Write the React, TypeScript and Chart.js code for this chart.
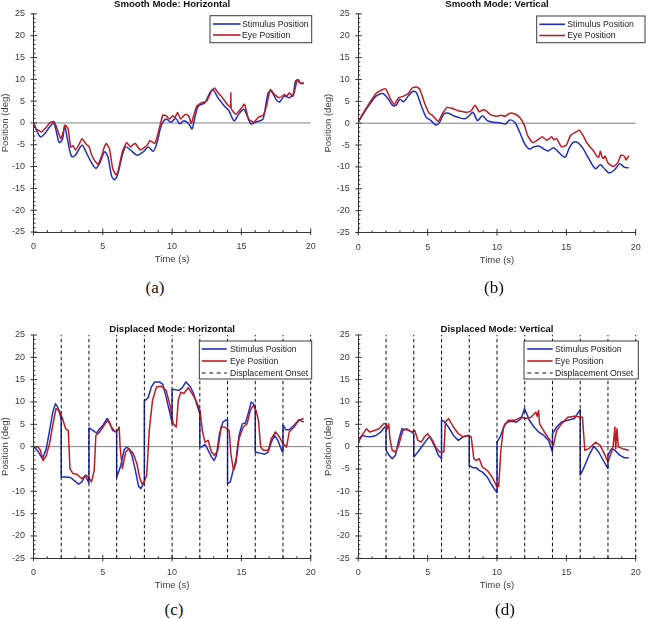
import React, { useEffect, useRef } from "react";
import { Chart, registerables } from "chart.js";
Chart.register(...registerables);

// ---------- shared axis data ----------
const X_TICKS = [0, 5, 10, 15, 20];
const Y_TICKS = [-25, -20, -15, -10, -5, 0, 5, 10, 15, 20, 25];
const ONSETS = [2, 4, 6, 8, 10, 12, 14, 16, 18, 20];
const LEGEND_LABELS = ["Stimulus Position", "Eye Position", "Displacement Onset"];
const TITLES = [
  "Smooth Mode: Horizontal",
  "Smooth Mode: Vertical",
  "Displaced Mode: Horizontal",
  "Displaced Mode: Vertical",
];
const PANEL_TAGS = ["(a)", "(b)", "(c)", "(d)"];

// ---------- panel (a) ----------
const aStimT = [0, 0.22, 0.5, 0.8, 1.15, 1.44, 1.6, 1.86, 2.1, 2.25, 2.44, 2.75, 3.03, 3.5, 3.84, 4.2, 4.5, 4.78, 5.13, 5.36, 5.64, 5.83, 6.06, 6.41, 6.65, 7.0, 7.47, 7.93, 8.28, 8.63, 8.9, 9.22, 9.57, 9.9, 10.27, 10.55, 10.85, 11.2, 11.44, 11.67, 11.9, 12.37, 12.72, 12.95, 13.3, 13.77, 14.1, 14.47, 14.8, 15.17, 15.41, 15.69, 16.0, 16.34, 16.57, 16.93, 17.16, 17.5, 17.75, 18.1, 18.45, 18.73, 18.9, 19.1, 19.26, 19.5];
const aStimY = [0, -1.7, -3.2, -2.5, -1.0, 0, -1.35, -4.5, -3.6, -0.6, -3.6, -7.7, -7.35, -5.1, -7.0, -9.2, -10.4, -9.2, -6.6, -7.7, -12.2, -13.0, -11.9, -7.4, -5.5, -6.2, -7.4, -6.6, -5.5, -6.5, -4.7, -0.6, 0.9, 0.15, 1.05, -0.2, 0.5, -0.2, -1.35, 1.65, 3.9, 4.65, 6.9, 7.65, 5.8, 3.9, 2.8, 0.5, 2.0, 3.15, 1.65, -0.2, 0.15, 0.5, 0.9, 6.9, 7.3, 5.4, 4.8, 6.15, 5.8, 6.5, 9.5, 9.9, 9.15, 9.0];
const aEyeT = [0, 0.22, 0.4, 0.57, 0.92, 1.2, 1.5, 1.74, 1.97, 2.15, 2.28, 2.5, 2.68, 2.85, 3.03, 3.3, 3.5, 3.65, 3.84, 4.0, 4.2, 4.43, 4.66, 4.94, 5.1, 5.25, 5.48, 5.71, 5.95, 6.1, 6.41, 6.72, 7.0, 7.2, 7.35, 7.7, 8.05, 8.25, 8.4, 8.75, 8.98, 9.33, 9.57, 9.8, 10.04, 10.2, 10.39, 10.62, 10.8, 10.97, 11.2, 11.39, 11.55, 11.79, 12.14, 12.49, 12.84, 13.07, 13.3, 13.54, 13.89, 14.1, 14.22, 14.24, 14.27, 14.59, 14.94, 15.22, 15.52, 15.88, 16.23, 16.58, 16.81, 17.09, 17.4, 17.75, 18.1, 18.3, 18.45, 18.73, 19.03, 19.15, 19.26, 19.5];
const aEyeY = [0, -1.5, -1.7, -2.1, -1.0, 0.15, 0.3, -1.7, -3.6, -2.0, -0.45, -1.35, -5.5, -5.2, -6.2, -4.8, -3.6, -4.2, -5.0, -5.4, -7.35, -8.7, -9.5, -7.35, -5.6, -4.7, -5.9, -10.4, -11.9, -11.1, -6.6, -4.5, -5.5, -4.9, -4.7, -6.2, -5.5, -4.9, -4.0, -4.7, -2.5, 1.8, 1.65, 0.9, 1.65, 1.2, 2.4, 0.9, 1.5, 2.0, 1.65, -0.2, 1.65, 3.9, 4.65, 5.0, 7.3, 8.0, 7.0, 6.15, 4.65, 3.9, 3.6, 6.9, 3.3, 2.0, 3.15, 4.3, 0.9, 0.15, 1.3, 1.8, 3.9, 7.65, 6.5, 5.8, 6.5, 6.2, 6.9, 6.15, 9.9, 9.4, 9.15, 9.15];

// ---------- panel (b) ----------
const bStimT = [0, 0.35, 0.82, 1.28, 1.75, 2.1, 2.5, 2.75, 3.0, 3.26, 3.6, 3.95, 4.19, 4.54, 4.9, 5.24, 5.6, 5.86, 6.17, 6.5, 6.86, 7.2, 7.68, 8.0, 8.26, 8.6, 8.95, 9.3, 9.77, 10.2, 10.6, 10.93, 11.28, 11.63, 11.98, 12.33, 12.67, 13.0, 13.37, 13.7, 14.07, 14.4, 14.9, 15.2, 15.5, 15.8, 16.2, 16.6, 17.1, 17.45, 17.8, 18.1, 18.5, 18.85, 19.2, 19.5];
const bStimY = [0.2, 2.1, 4.3, 6.2, 6.8, 5.8, 4.0, 4.2, 5.5, 4.9, 6.2, 7.3, 7.0, 4.0, 1.35, 0.6, -0.4, 0.2, 2.1, 2.3, 1.7, 1.35, 1.0, 1.7, 2.5, 0.6, 1.7, 0.6, 0.2, 0.1, -0.2, 0.75, 0.2, -2.0, -4.6, -5.9, -5.4, -5.2, -5.9, -6.35, -5.6, -6.5, -7.8, -5.75, -4.4, -4.4, -5.75, -8.0, -10.4, -9.5, -10.6, -11.4, -10.6, -9.3, -10.1, -10.2];
const bEyeT = [0, 0.35, 0.82, 1.28, 1.75, 1.98, 2.33, 2.6, 2.9, 3.26, 3.6, 3.9, 4.19, 4.42, 4.77, 5.1, 5.3, 5.47, 5.77, 6.05, 6.4, 6.75, 7.0, 7.2, 7.5, 7.8, 8.14, 8.42, 8.72, 9.0, 9.2, 9.55, 10.0, 10.3, 10.6, 10.93, 11.28, 11.63, 11.98, 12.2, 12.56, 12.9, 13.26, 13.6, 13.95, 14.1, 14.3, 14.65, 15.0, 15.3, 15.7, 15.93, 16.2, 16.5, 17.0, 17.15, 17.33, 17.45, 17.56, 17.68, 17.8, 18.0, 18.4, 18.7, 18.95, 19.2, 19.3, 19.5];
const bEyeY = [0.4, 2.3, 4.7, 6.8, 7.7, 7.85, 5.5, 4.3, 5.8, 6.2, 6.8, 8.1, 8.3, 7.85, 4.7, 2.3, 1.9, 1.35, 0.4, 2.1, 3.6, 3.4, 3.1, 2.85, 2.7, 2.5, 2.85, 4.1, 2.6, 3.1, 2.85, 1.9, 1.6, 1.8, 1.6, 2.3, 2.1, 1.35, -0.5, -2.8, -4.4, -3.9, -3.1, -3.9, -3.1, -3.8, -3.5, -5.4, -5.0, -2.8, -2.0, -1.6, -2.8, -4.6, -6.5, -7.3, -7.85, -6.4, -7.6, -8.1, -7.5, -9.1, -9.9, -9.1, -7.25, -7.6, -8.4, -7.4];

// ---------- panel (c) ----------
const cStimT = [0, 0.27, 0.64, 0.92, 1.16, 1.39, 1.58, 1.74, 1.97, 2.0, 2.0, 2.32, 2.67, 2.9, 3.26, 3.49, 3.73, 3.96, 4.0, 4.0, 4.31, 4.54, 4.78, 5.01, 5.32, 5.48, 5.71, 6.0, 6.0, 6.3, 6.53, 6.7, 6.88, 7.1, 7.35, 7.58, 7.75, 7.93, 8.0, 8.0, 8.28, 8.5, 8.75, 9.1, 9.33, 9.57, 9.85, 10.0, 10.0, 10.15, 10.5, 10.74, 11.0, 11.32, 11.55, 11.8, 12.0, 12.0, 12.14, 12.37, 12.6, 12.84, 13.03, 13.2, 13.42, 13.66, 13.89, 14.0, 14.0, 14.2, 14.35, 14.6, 14.83, 15.06, 15.29, 15.53, 15.71, 15.87, 16.0, 16.0, 16.33, 16.69, 16.93, 17.16, 17.39, 17.63, 17.93, 18.0, 18.0, 18.2, 18.45, 18.8, 19.15, 19.5];
const cStimY = [0, -0.8, -2.7, -0.5, 3.6, 7.7, 9.6, 8.9, 6.6, 5.9, -6.8, -6.8, -6.9, -7.5, -8.4, -7.9, -6.4, -7.9, -8.1, 4.2, 3.6, 3.05, 4.0, 4.8, 6.3, 5.5, 3.6, 3.3, -6.9, -4.2, -0.8, -0.1, -0.45, -1.95, -5.3, -8.9, -9.4, -8.3, -7.9, 10.2, 11.0, 13.35, 14.5, 14.5, 13.95, 11.1, 7.4, 5.2, 12.8, 12.8, 12.6, 13.2, 14.5, 13.35, 11.9, 9.25, 7.4, 0.0, -0.1, 0.5, -0.8, -2.3, -3.1, -1.95, 2.9, 5.5, 6.0, 5.9, -8.3, -7.9, -6.0, -3.1, 2.5, 5.1, 5.3, 7.8, 10.0, 9.6, 8.9, -1.2, -1.45, -1.7, -1.2, 1.0, 2.5, 1.4, -1.0, -1.2, 4.8, 3.8, 3.8, 4.8, 6.0, 5.5];
const cEyeT = [0, 0.34, 0.5, 0.69, 0.92, 1.16, 1.34, 1.62, 1.86, 2.09, 2.32, 2.51, 2.63, 2.84, 3.14, 3.49, 3.77, 3.96, 4.19, 4.38, 4.5, 4.78, 5.01, 5.36, 5.6, 5.88, 6.06, 6.18, 6.25, 6.41, 6.65, 6.88, 7.18, 7.46, 7.65, 7.82, 7.98, 8.17, 8.35, 8.59, 8.87, 9.22, 9.57, 9.85, 10.08, 10.3, 10.45, 10.62, 10.85, 11.16, 11.44, 11.72, 12.02, 12.18, 12.37, 12.6, 12.84, 13.07, 13.3, 13.54, 13.77, 14.12, 14.24, 14.43, 14.6, 14.83, 15.13, 15.41, 15.64, 15.87, 16.06, 16.23, 16.39, 16.58, 16.93, 17.16, 17.46, 17.75, 18.0, 18.26, 18.45, 18.8, 19.15, 19.5];
const cEyeY = [0, -0.1, -0.8, -3.1, -2.0, 0.7, 4.0, 8.5, 8.1, 6.3, 4.0, 3.6, -4.9, -6.0, -6.2, -7.2, -6.4, -6.8, -7.9, -5.3, 2.5, 3.3, 4.4, 6.0, 4.5, 3.3, 3.6, 4.4, -0.1, -4.9, -1.2, -0.45, -1.45, -3.8, -6.8, -8.3, -7.9, -6.4, 3.6, 10.4, 13.35, 13.5, 12.6, 9.25, 5.1, 4.4, 10.4, 12.2, 11.9, 13.2, 11.9, 10.4, 8.1, 3.6, 1.0, 1.4, -1.2, -1.95, -0.8, 4.4, 4.4, 3.6, -1.6, -5.3, -3.8, 1.8, 4.4, 5.1, 8.1, 9.25, 8.1, 5.9, -0.1, -0.8, -0.8, 1.8, 3.3, 2.15, 0.7, -0.1, 3.3, 4.4, 5.9, 6.3];

// ---------- panel (d) ----------
const dStimT = [0, 0.28, 0.58, 0.93, 1.28, 1.63, 1.91, 2.0, 2.0, 2.21, 2.45, 2.68, 2.91, 3.14, 3.49, 3.84, 4.0, 4.0, 4.3, 4.65, 5.0, 5.17, 5.47, 5.77, 6.0, 6.0, 6.17, 6.5, 6.86, 7.21, 7.56, 7.91, 8.0, 8.0, 8.26, 8.49, 8.72, 8.95, 9.3, 9.65, 9.88, 10.0, 10.0, 10.23, 10.58, 10.93, 11.4, 11.74, 11.98, 12.1, 12.33, 12.67, 13.0, 13.37, 13.72, 14.0, 14.0, 14.3, 14.65, 15.1, 15.58, 15.8, 16.0, 16.0, 16.28, 16.63, 16.98, 17.33, 17.67, 18.0, 18.0, 18.26, 18.5, 18.84, 19.2, 19.5];
const dStimY = [1.0, 2.5, 2.3, 2.2, 2.5, 3.3, 4.4, 4.4, -0.8, -1.9, -2.7, -1.9, 1.4, 4.0, 3.8, 3.3, 2.9, -2.3, -1.2, 0.3, 1.8, 2.2, 0.3, -1.9, -2.7, 5.9, 5.7, 4.4, 2.5, 1.4, 2.2, 2.5, 2.3, -4.2, -4.7, -4.7, -5.3, -5.7, -6.8, -8.7, -9.8, -10.3, 1.0, 2.2, 5.1, 5.7, 5.5, 6.3, 8.5, 7.7, 5.9, 4.4, 3.3, 2.5, 1.4, -1.2, 2.9, 4.4, 5.5, 5.9, 6.3, 7.4, 8.3, -6.4, -4.6, -1.95, 0.1, -1.2, -3.1, -4.9, -1.9, -0.45, -0.8, -1.9, -2.5, -2.5];
const dEyeT = [0, 0.35, 0.58, 0.82, 1.16, 1.5, 1.81, 2.0, 2.1, 2.19, 2.28, 2.44, 2.68, 2.91, 3.21, 3.49, 3.84, 4.07, 4.3, 4.54, 4.77, 5.0, 5.35, 5.58, 5.86, 6.17, 6.28, 6.51, 6.86, 7.21, 7.56, 7.91, 8.14, 8.33, 8.49, 8.72, 8.95, 9.3, 9.65, 10.0, 10.12, 10.28, 10.47, 10.81, 11.28, 11.74, 12.1, 12.44, 12.8, 12.9, 13.0, 13.07, 13.49, 13.84, 14.07, 14.3, 14.65, 15.1, 15.58, 16.16, 16.33, 16.63, 17.1, 17.44, 17.79, 18.0, 18.26, 18.37, 18.5, 18.56, 18.65, 18.75, 19.07, 19.5];
const dEyeY = [1.4, 2.9, 4.0, 3.3, 3.6, 4.0, 5.1, 5.1, 4.0, 5.1, 1.8, -0.8, -1.2, 0.3, 3.6, 4.0, 3.3, 3.6, 1.4, 1.0, 2.2, 2.9, 1.4, -0.1, -1.2, -1.2, 5.5, 6.3, 4.4, 2.9, 2.2, 2.5, 2.2, -2.7, -3.1, -2.7, -4.6, -5.3, -6.8, -9.0, -8.9, -0.8, 4.4, 5.9, 5.9, 6.6, 6.3, 6.6, 7.7, 6.8, 8.1, 5.1, 2.9, 1.4, 0.3, 3.6, 5.1, 6.6, 6.8, 6.6, -0.8, -0.45, 1.0, 0.3, -1.95, -3.4, -1.2, -0.1, 4.4, -0.45, 4.0, -0.1, -0.45, -0.8];

// ---------- styling ----------
const BLUE = "#1f2fc2";
const RED = "#bd1c22";
const AXIS = "#333333";
const TXT = "#3c3c3c";
const FONT = "'Liberation Sans', Arial, Helvetica, sans-serif";

type Area = { l: number; r: number; t: number; b: number };
type PanelCfg = {
  idx: number;
  left: number;
  top: number;
  w: number;
  h: number;
  area: Area;
  xTitleY: number;
  titleBase: number;
  legend: { x: number; y: number; w: number; h: number; row0: number; rowH: number; lx: number; lLen: number; tx: number };
  series: { stimT: number[]; stimY: number[]; eyeT: number[]; eyeY: number[] };
  onsets: boolean;
  smooth: number;
  tag: { x: number; y: number };
};

const zip = (t: number[], v: number[]) => t.map((x, i) => ({ x, y: v[i] }));

const decorPlugin = {
  id: "decor",
  beforeDatasetsDraw(chart: any) {
    const { ctx, chartArea: ca, scales } = chart;
    const y0 = scales.y.getPixelForValue(0);
    ctx.save();
    ctx.strokeStyle = "#808080";
    ctx.lineWidth = 1;
    ctx.beginPath();
    ctx.moveTo(ca.left, y0);
    ctx.lineTo(ca.right, y0);
    ctx.stroke();
    ctx.restore();
  },
  afterDraw(chart: any, _a: any, opts: any) {
    const { ctx, chartArea: ca, scales } = chart;
    const xs = scales.x;
    const ys = scales.y;
    ctx.save();
    ctx.strokeStyle = AXIS;
    ctx.lineWidth = 1;
    ctx.beginPath();
    for (let v = 0; v <= 20; v++) {
      const px = xs.getPixelForValue(v);
      const major = v % 5 === 0;
      ctx.moveTo(px, ca.bottom + (major ? 3 : 0));
      ctx.lineTo(px, ca.bottom - (major ? 3.5 : 2));
    }
    for (let v = -25; v <= 25; v++) {
      const py = ys.getPixelForValue(v);
      const major = v % 5 === 0;
      ctx.moveTo(ca.left - (major ? 3 : 0), py);
      ctx.lineTo(ca.left + (major ? 3.5 : 2), py);
    }
    ctx.stroke();

    // title
    ctx.fillStyle = "#111";
    ctx.font = `bold 9.6px ${FONT}`;
    ctx.textAlign = "center";
    ctx.textBaseline = "alphabetic";
    ctx.fillText(opts.title, (ca.left + ca.right) / 2, opts.titleBase);

    // legend
    const L = opts.legend;
    ctx.fillStyle = "#ffffff";
    ctx.fillRect(L.x, L.y, L.w, L.h);
    ctx.strokeStyle = "#3a3a3a";
    ctx.lineWidth = 1;
    ctx.strokeRect(L.x, L.y, L.w, L.h);
    const items = opts.items as { label: string; color: string; dash: number[]; width: number }[];
    ctx.font = `8.7px ${FONT}`;
    ctx.textAlign = "left";
    ctx.textBaseline = "middle";
    items.forEach((it, i) => {
      const ry = L.y + L.row0 + i * L.rowH;
      ctx.strokeStyle = it.color;
      ctx.lineWidth = it.width;
      ctx.setLineDash(it.dash);
      ctx.beginPath();
      ctx.moveTo(L.x + L.lx, ry);
      ctx.lineTo(L.x + L.lx + L.lLen, ry);
      ctx.stroke();
      ctx.setLineDash([]);
      ctx.fillStyle = "#222";
      ctx.fillText(it.label, L.x + L.tx, ry + 0.5);
    });
    ctx.restore();
  },
};

function buildConfig(p: PanelCfg): any {
  const datasets: any[] = [
    {
      label: LEGEND_LABELS[0],
      data: zip(p.series.stimT, p.series.stimY),
      borderColor: BLUE,
      borderWidth: 1.5,
      pointRadius: 0,
      tension: p.smooth,
      order: 3,
      borderJoinStyle: "round",
    },
    {
      label: LEGEND_LABELS[1],
      data: zip(p.series.eyeT, p.series.eyeY),
      borderColor: RED,
      borderWidth: 1.5,
      pointRadius: 0,
      tension: p.smooth > 0 ? 0.15 : 0,
      order: 2,
      borderJoinStyle: "round",
    },
  ];
  if (p.onsets) {
    const pts: any[] = [];
    ONSETS.forEach((t) => {
      pts.push({ x: t, y: -25 }, { x: t, y: 25 }, { x: t, y: null });
    });
    datasets.push({
      label: LEGEND_LABELS[2],
      data: pts,
      borderColor: "#111",
      borderWidth: 1,
      borderDash: [3.5, 2.5],
      pointRadius: 0,
      spanGaps: false,
      order: 1,
      clip: 2,
    });
  }
  const items = [
    { label: LEGEND_LABELS[0], color: BLUE, dash: [], width: 1.6 },
    { label: LEGEND_LABELS[1], color: RED, dash: [], width: 1.6 },
  ];
  if (p.onsets) items.push({ label: LEGEND_LABELS[2], color: "#111", dash: [4, 3.5], width: 1 });

  const tickFont = { family: FONT, size: 9 };
  const titleFont = { family: FONT, size: 9.5 };
  return {
    type: "line",
    data: { datasets },
    plugins: [decorPlugin],
    options: {
      responsive: false,
      animation: false,
      events: [],
      layout: { padding: { left: 0, top: p.area.t, right: p.w - p.area.r, bottom: 0 } },
      plugins: {
        legend: { display: false },
        tooltip: { enabled: false },
        title: { display: false },
        decor: { title: TITLES[p.idx], titleBase: p.titleBase, legend: p.legend, items },
      },
      scales: {
        x: {
          type: "linear",
          min: 0,
          max: 20,
          afterBuildTicks: (s: any) => {
            s.ticks = X_TICKS.map((value) => ({ value }));
          },
          afterFit: (s: any) => {
            s.height = p.h - p.area.b;
          },
          grid: { display: false, drawTicks: false, tickLength: 0 },
          border: { display: true, color: AXIS, width: 1 },
          ticks: { padding: 9.3, font: tickFont, color: TXT, maxRotation: 0, autoSkip: false },
          title: {
            display: true,
            text: "Time (s)",
            font: titleFont,
            color: TXT,
            padding: { top: 0, bottom: p.h - p.xTitleY - 5.7 },
          },
        },
        y: {
          type: "linear",
          min: -25,
          max: 25,
          afterBuildTicks: (s: any) => {
            s.ticks = Y_TICKS.map((value) => ({ value }));
          },
          afterFit: (s: any) => {
            s.width = p.area.l;
          },
          grid: { display: false, drawTicks: false, tickLength: 0 },
          border: { display: true, color: AXIS, width: 1 },
          ticks: { padding: 8.5, font: tickFont, color: TXT, autoSkip: false },
          title: { display: true, text: "Position (deg)", font: titleFont, color: TXT, padding: 0 },
        },
      },
    },
  };
}

const PANELS: PanelCfg[] = [
  {
    idx: 0, left: 0, top: 0, w: 325, h: 268,
    area: { l: 33.5, r: 319, t: 10, b: 232 },
    xTitleY: 259, titleBase: 6.8,
    legend: { x: 210, y: 15.7, w: 101.7, h: 27, row0: 8.3, rowH: 11, lx: 3, lLen: 27.5, tx: 32 },
    series: { stimT: aStimT, stimY: aStimY, eyeT: aEyeT, eyeY: aEyeY },
    onsets: false, smooth: 0.3, tag: { x: 155, y: 288 },
  },
  {
    idx: 1, left: 323, top: 0, w: 327, h: 268,
    area: { l: 35.3, r: 322, t: 10, b: 232.5 },
    xTitleY: 260, titleBase: 6.8,
    legend: { x: 213.7, y: 16, w: 108.3, h: 26.7, row0: 8.3, rowH: 11.2, lx: 2.6, lLen: 25.7, tx: 30.6 },
    series: { stimT: bStimT, stimY: bStimY, eyeT: bEyeT, eyeY: bEyeY },
    onsets: false, smooth: 0.3, tag: { x: 494, y: 288 },
  },
  {
    idx: 2, left: 0, top: 300, w: 325, h: 294,
    area: { l: 33.5, r: 319, t: 35, b: 258.3 },
    xTitleY: 285.7, titleBase: 32,
    legend: { x: 199.3, y: 41, w: 112.4, h: 38, row0: 8, rowH: 12, lx: 2.4, lLen: 25, tx: 30.7 },
    series: { stimT: cStimT, stimY: cStimY, eyeT: cEyeT, eyeY: cEyeY },
    onsets: true, smooth: 0, tag: { x: 174, y: 610 },
  },
  {
    idx: 3, left: 323, top: 300, w: 327, h: 294,
    area: { l: 35.3, r: 322, t: 35, b: 258.3 },
    xTitleY: 285.7, titleBase: 32,
    legend: { x: 201, y: 41, w: 114.3, h: 38, row0: 8, rowH: 12, lx: 3.3, lLen: 25.4, tx: 31 },
    series: { stimT: dStimT, stimY: dStimY, eyeT: dEyeT, eyeY: dEyeY },
    onsets: true, smooth: 0, tag: { x: 505, y: 610 },
  },
];

function Panel({ p }: { p: PanelCfg }) {
  const ref = useRef<HTMLCanvasElement>(null);
  useEffect(() => {
    if (!ref.current) return;
    const chart = new Chart(ref.current, buildConfig(p));
    return () => chart.destroy();
  }, [p]);
  return (
    <canvas
      ref={ref}
      width={p.w}
      height={p.h}
      style={{ position: "absolute", left: p.left, top: p.top, width: p.w, height: p.h, display: "block" }}
    />
  );
}

export default function App() {
  return (
    <div style={{ position: "absolute", left: 0, top: 0, width: 650, height: 619, background: "#fff", overflow: "hidden" }}>
      {PANELS.map((p) => (
        <Panel key={p.idx} p={p} />
      ))}
      {PANELS.map((p) => (
        <div
          key={"t" + p.idx}
          style={{
            position: "absolute",
            left: p.tag.x - 30,
            top: p.tag.y - 11,
            width: 60,
            height: 22,
            lineHeight: "22px",
            textAlign: "center",
            fontFamily: "'Liberation Serif', 'Times New Roman', serif",
            fontSize: 17,
            color: "#111",
          }}
        >
          {PANEL_TAGS[p.idx]}
        </div>
      ))}
    </div>
  );
}
